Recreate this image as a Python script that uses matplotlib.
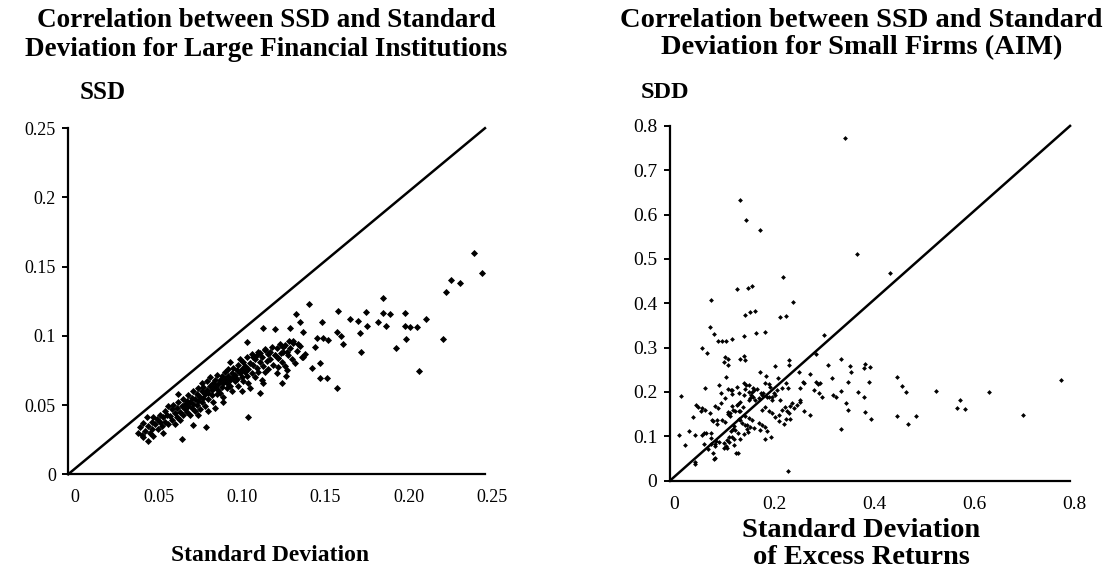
import numpy as np
import matplotlib.pyplot as plt
from matplotlib.transforms import ScaledTranslation

plt.rcParams['font.family'] = ['Liberation Serif', 'DejaVu Serif']

# ---- left panel: large financial institutions (std dev vs SSD) ----
large_sd_sparse = [0.2436, 0.248, 0.2296, 0.2348, 0.2266, 0.1886, 0.1446, 0.1618, 0.1786, 0.189,
                   0.193, 0.2018, 0.1366, 0.169, 0.174, 0.2146, 0.152, 0.1856, 0.139, 0.179,
                   0.1906, 0.202, 0.205, 0.2094, 0.117, 0.124, 0.133, 0.1406, 0.161, 0.175,
                   0.2024, 0.2246, 0.107, 0.149, 0.153, 0.156, 0.1646, 0.1634, 0.148, 0.1966,
                   0.1756, 0.1326, 0.135, 0.139, 0.141, 0.142, 0.151, 0.146, 0.151, 0.155,
                   0.1614, 0.2106, 0.108, 0.075, 0.0824, 0.068, 0.0446, 0.048, 0.051,
                   0.129, 0.131, 0.1278, 0.118, 0.121, 0.124, 0.126, 0.115, 0.113, 0.1106,
                   0.131, 0.126, 0.1306, 0.128, 0.117, 0.115, 0.109]
large_ssd_sparse = [0.160, 0.1455, 0.1404, 0.1382, 0.1317, 0.1272, 0.1228, 0.118, 0.1173, 0.1168,
                    0.1154, 0.1168, 0.1156, 0.1118, 0.111, 0.1118, 0.110, 0.110, 0.110, 0.1074,
                    0.107, 0.107, 0.106, 0.106, 0.1055, 0.105, 0.1055, 0.1024, 0.1028, 0.1019,
                    0.098, 0.098, 0.0956, 0.0987, 0.0987, 0.097, 0.094, 0.0995, 0.092, 0.091,
                    0.0884, 0.096, 0.0947, 0.0927, 0.085, 0.0867, 0.080, 0.0766, 0.0698, 0.0693,
                    0.0621, 0.0747, 0.0412, 0.0356, 0.0344, 0.0253, 0.0267, 0.0243, 0.0277,
                    0.0922, 0.0886, 0.0879, 0.0903, 0.0881, 0.0862, 0.0843, 0.0874, 0.0862, 0.0845,
                    0.0754, 0.0778, 0.0706, 0.0658, 0.0658, 0.059, 0.0621]

large_sd_core = [0.042, 0.043, 0.044, 0.045, 0.046, 0.047, 0.048, 0.049, 0.050, 0.050,
                 0.051, 0.052, 0.053, 0.054, 0.055, 0.055, 0.056, 0.057, 0.058, 0.058, 0.059, 0.060, 0.060, 0.057,
                 0.061, 0.062, 0.062, 0.063, 0.064, 0.065, 0.065, 0.066, 0.067, 0.067, 0.068, 0.069, 0.069, 0.070, 0.070, 0.064, 0.066,
                 0.071, 0.071, 0.072, 0.072, 0.073, 0.073, 0.074, 0.074, 0.075, 0.075, 0.076, 0.076, 0.077, 0.077, 0.078, 0.078, 0.079, 0.079, 0.080, 0.080, 0.078, 0.080,
                 0.081, 0.081, 0.082, 0.082, 0.083, 0.083, 0.084, 0.084, 0.085, 0.085, 0.086, 0.086, 0.087, 0.087, 0.088, 0.088, 0.089, 0.089, 0.090, 0.090, 0.084, 0.088,
                 0.091, 0.091, 0.092, 0.092, 0.093, 0.093, 0.094, 0.094, 0.095, 0.095, 0.096, 0.096, 0.097, 0.097, 0.098, 0.098, 0.099, 0.099, 0.100, 0.100, 0.097, 0.093,
                 0.101, 0.101, 0.102, 0.102, 0.103, 0.103, 0.104, 0.104, 0.105, 0.105, 0.106, 0.106, 0.107, 0.107, 0.108, 0.108, 0.109, 0.110, 0.110, 0.104,
                 0.111, 0.112, 0.112, 0.113, 0.114, 0.114, 0.115, 0.116, 0.116, 0.117, 0.118, 0.118, 0.119, 0.120, 0.120,
                 0.121, 0.122, 0.123, 0.124, 0.125, 0.125, 0.126, 0.127, 0.128, 0.129, 0.130, 0.130,
                 0.132, 0.133, 0.134, 0.135, 0.136, 0.137, 0.138, 0.140]
large_ssd_core = [0.030, 0.034, 0.028, 0.037, 0.031, 0.041, 0.035, 0.030, 0.038, 0.033,
                  0.041, 0.036, 0.040, 0.033, 0.038, 0.043, 0.035, 0.041, 0.046, 0.038, 0.043, 0.036, 0.049, 0.030,
                  0.042, 0.047, 0.039, 0.050, 0.044, 0.041, 0.048, 0.052, 0.045, 0.039, 0.049, 0.054, 0.043, 0.047, 0.051, 0.036, 0.058,
                  0.045, 0.053, 0.049, 0.057, 0.043, 0.052, 0.055, 0.048, 0.060, 0.051, 0.046, 0.054, 0.058, 0.050, 0.062, 0.053, 0.047, 0.056, 0.060, 0.052, 0.043, 0.066,
                  0.055, 0.063, 0.049, 0.058, 0.061, 0.067, 0.054, 0.059, 0.064, 0.070, 0.057, 0.061, 0.066, 0.052, 0.063, 0.068, 0.058, 0.072, 0.065, 0.061, 0.046, 0.048,
                  0.068, 0.059, 0.063, 0.071, 0.066, 0.056, 0.069, 0.074, 0.062, 0.066, 0.071, 0.076, 0.064, 0.068, 0.073, 0.060, 0.070, 0.077, 0.067, 0.072, 0.081, 0.052,
                  0.075, 0.069, 0.079, 0.064, 0.073, 0.083, 0.070, 0.076, 0.067, 0.081, 0.074, 0.078, 0.071, 0.085, 0.076, 0.066, 0.080, 0.073, 0.087, 0.060,
                  0.079, 0.083, 0.070, 0.077, 0.088, 0.074, 0.081, 0.085, 0.068, 0.078, 0.090, 0.074, 0.082, 0.087, 0.076,
                  0.083, 0.092, 0.079, 0.086, 0.091, 0.073, 0.084, 0.094, 0.081, 0.088, 0.078, 0.093,
                  0.086, 0.091, 0.083, 0.096, 0.080, 0.089, 0.094, 0.085]

large_xticks = [0, 0.05, 0.10, 0.15, 0.20, 0.25]
large_xlabels = ['0', '0.05', '0.10', '0.15', '0.20', '0.25']
large_yticks = [0, 0.05, 0.10, 0.15, 0.20, 0.25]
large_ylabels = ['0', '0.05', '0.1', '0.15', '0.2', '0.25']

# ---- right panel: small firms on AIM (std dev of excess returns vs SDD) ----
aim_sd_a = [0.350, 0.140, 0.151, 0.180, 0.373, 0.439, 0.225, 0.133, 0.155, 0.163,
            0.246, 0.081, 0.220, 0.232, 0.150, 0.160, 0.170, 0.079, 0.087, 0.171,
            0.189, 0.148, 0.307, 0.095, 0.103, 0.111, 0.123, 0.065, 0.074, 0.291,
            0.110, 0.116, 0.139, 0.149, 0.148, 0.107, 0.116, 0.237, 0.237, 0.210,
            0.315, 0.341, 0.359, 0.390, 0.399, 0.388, 0.362, 0.258, 0.180, 0.191,
            0.215, 0.111, 0.070, 0.023, 0.097, 0.116, 0.121, 0.123, 0.102, 0.133,
            0.148, 0.151, 0.165, 0.168, 0.157, 0.161, 0.159, 0.177, 0.183, 0.185,
            0.197, 0.193, 0.203, 0.207, 0.224, 0.231, 0.236, 0.265, 0.268, 0.280,
            0.291, 0.295, 0.299, 0.287, 0.298, 0.303, 0.323, 0.325, 0.331, 0.342,
            0.355, 0.351, 0.355, 0.375, 0.387, 0.397, 0.390, 0.402, 0.453, 0.463,
            0.471, 0.453, 0.475, 0.491, 0.532, 0.580, 0.573, 0.589, 0.638, 0.705,
            0.782, 0.341, 0.235, 0.280, 0.260, 0.018, 0.030, 0.039, 0.047, 0.050,
            0.050, 0.050, 0.052, 0.057, 0.064, 0.070, 0.063, 0.064, 0.068, 0.072,
            0.081, 0.081, 0.068, 0.075, 0.085, 0.087, 0.082, 0.089, 0.091, 0.093,
            0.085, 0.093, 0.103, 0.109, 0.115, 0.116, 0.125, 0.127, 0.131, 0.135,
            0.139, 0.143, 0.149, 0.153, 0.155, 0.147, 0.139, 0.125, 0.117, 0.108,
            0.112, 0.117, 0.121, 0.127, 0.135, 0.137, 0.145]
aim_sdd_a = [0.772, 0.632, 0.587, 0.565, 0.510, 0.468, 0.460, 0.433, 0.435, 0.438,
             0.403, 0.408, 0.368, 0.371, 0.374, 0.380, 0.382, 0.347, 0.330, 0.334,
             0.336, 0.326, 0.328, 0.316, 0.316, 0.316, 0.320, 0.298, 0.288, 0.286,
             0.278, 0.274, 0.274, 0.271, 0.282, 0.267, 0.261, 0.271, 0.260, 0.259,
             0.261, 0.275, 0.258, 0.262, 0.256, 0.253, 0.244, 0.244, 0.244, 0.235,
             0.232, 0.234, 0.210, 0.191, 0.216, 0.206, 0.205, 0.195, 0.198, 0.212,
             0.221, 0.215, 0.210, 0.205, 0.200, 0.192, 0.186, 0.186, 0.192, 0.197,
             0.217, 0.189, 0.188, 0.197, 0.210, 0.220, 0.208, 0.223, 0.220, 0.240,
             0.223, 0.218, 0.220, 0.205, 0.197, 0.189, 0.232, 0.192, 0.188, 0.202,
             0.223, 0.174, 0.159, 0.201, 0.189, 0.223, 0.154, 0.139, 0.234, 0.214,
             0.200, 0.146, 0.127, 0.146, 0.203, 0.181, 0.164, 0.161, 0.201, 0.149,
             0.227, 0.117, 0.022, 0.148, 0.177, 0.102, 0.081, 0.113, 0.144, 0.102,
             0.043, 0.038, 0.170, 0.167, 0.163, 0.159, 0.156, 0.102, 0.107, 0.107,
             0.107, 0.097, 0.082, 0.071, 0.062, 0.049, 0.082, 0.082, 0.089, 0.127,
             0.135, 0.137, 0.137, 0.132, 0.154, 0.150, 0.159, 0.093, 0.062, 0.108,
             0.137, 0.129, 0.125, 0.116, 0.110, 0.105, 0.095, 0.117, 0.098, 0.074,
             0.077, 0.088, 0.112, 0.123, 0.173, 0.156, 0.167]

aim_sd_b = [0.120, 0.120, 0.130, 0.140, 0.138, 0.150, 0.157, 0.163, 0.153, 0.160,
            0.167, 0.177, 0.183, 0.190, 0.180, 0.193, 0.202, 0.190, 0.183, 0.190,
            0.197, 0.203, 0.210, 0.217, 0.223, 0.230, 0.233, 0.240, 0.243, 0.247,
            0.238, 0.231, 0.240, 0.217, 0.227, 0.130, 0.123, 0.113, 0.107, 0.097,
            0.090, 0.113, 0.127, 0.135, 0.090, 0.157, 0.165, 0.170, 0.147, 0.140,
            0.133, 0.123, 0.110, 0.102, 0.095, 0.089, 0.083, 0.080, 0.203, 0.197,
            0.210, 0.220, 0.163, 0.173, 0.182, 0.189, 0.200, 0.213, 0.157, 0.149,
            0.138, 0.123, 0.260, 0.267, 0.253, 0.260]
aim_sdd_b = [0.153, 0.146, 0.156, 0.156, 0.138, 0.146, 0.141, 0.137, 0.126, 0.122,
             0.118, 0.129, 0.126, 0.122, 0.114, 0.111, 0.099, 0.095, 0.159, 0.165,
             0.156, 0.152, 0.143, 0.148, 0.159, 0.165, 0.157, 0.168, 0.176, 0.163,
             0.152, 0.138, 0.138, 0.135, 0.128, 0.114, 0.099, 0.092, 0.084, 0.088,
             0.078, 0.073, 0.080, 0.062, 0.050, 0.182, 0.189, 0.182, 0.193, 0.178,
             0.171, 0.168, 0.186, 0.174, 0.163, 0.168, 0.137, 0.152, 0.182, 0.189,
             0.193, 0.182, 0.201, 0.206, 0.197, 0.220, 0.211, 0.205, 0.216, 0.206,
             0.197, 0.205, 0.182, 0.156, 0.171, 0.208]

aim_xticks = [0, 0.2, 0.4, 0.6, 0.8]
aim_xlabels = ['0', '0.2', '0.4', '0.6', '0.8']
aim_yticks = [0, 0.1, 0.2, 0.3, 0.4, 0.5, 0.6, 0.7, 0.8]
aim_ylabels = ['0', '0.1', '0.2', '0.3', '0.4', '0.5', '0.6', '0.7', '0.8']


fig = plt.figure(figsize=(11.1, 5.84), dpi=100)
ax1 = fig.add_axes([0.0615, 0.188, 0.3754, 0.5925])
ax2 = fig.add_axes([0.6036, 0.177, 0.3604, 0.6074])


def style_axes(ax, lim, xt, xl, yt, yl, xshift, fs):
    ax.set_xlim(0, lim)
    ax.set_ylim(0, lim)
    for s in ['top', 'right']:
        ax.spines[s].set_visible(False)
    for s in ['left', 'bottom']:
        ax.spines[s].set_linewidth(1.6)
    ax.set_xticks(xt)
    ax.set_xticklabels(xl)
    ax.set_yticks(yt)
    ax.set_yticklabels(yl)
    ax.tick_params(axis='x', length=0, pad=11, labelsize=fs)
    ax.tick_params(axis='y', length=4, width=1.4, direction='out', pad=5, labelsize=fs)
    off = ScaledTranslation(xshift, 0, fig.dpi_scale_trans)
    for lab in ax.get_xticklabels():
        lab.set_transform(lab.get_transform() + off)
    # 45 degree reference line
    ax.plot([0, lim], [0, lim], color='black', lw=1.8, clip_on=False)


ax1.scatter(large_sd_sparse, large_ssd_sparse, marker='D', s=13, color='black', linewidths=0, clip_on=False)
ax1.scatter(large_sd_core, large_ssd_core, marker='D', s=13, color='black', linewidths=0, clip_on=False)
style_axes(ax1, 0.25, large_xticks, large_xlabels, large_yticks, large_ylabels, 0.07, 13)

ax2.scatter(aim_sd_a, aim_sdd_a, marker='D', s=6, color='black', linewidths=0, clip_on=False)
ax2.scatter(aim_sd_b, aim_sdd_b, marker='D', s=6, color='black', linewidths=0, clip_on=False)
style_axes(ax2, 0.8, aim_xticks, aim_xlabels, aim_yticks, aim_ylabels, 0.04, 14)

fig.text(0.24, 0.986, 'Correlation between SSD and Standard\nDeviation for Large Financial Institutions',
         ha='center', va='top', fontsize=19.5, fontweight='bold', linespacing=1.18)
fig.text(0.776, 0.986, 'Correlation between SSD and Standard\nDeviation for Small Firms (AIM)',
         ha='center', va='top', fontsize=20.5, fontweight='bold', linespacing=1.12)
fig.text(0.072, 0.842, 'SSD', ha='left', va='center', fontsize=18, fontweight='bold')
fig.text(0.577, 0.842, 'SDD', ha='left', va='center', fontsize=17.5, fontweight='bold')

fig.text(0.243, 0.066, 'Standard Deviation', ha='center', va='top', fontsize=17, fontweight='bold')
fig.text(0.776, 0.113, 'Standard Deviation\nof Excess Returns', ha='center', va='top',
         fontsize=20.5, fontweight='bold', linespacing=1.1)

fig.savefig('out.png', dpi=100)
